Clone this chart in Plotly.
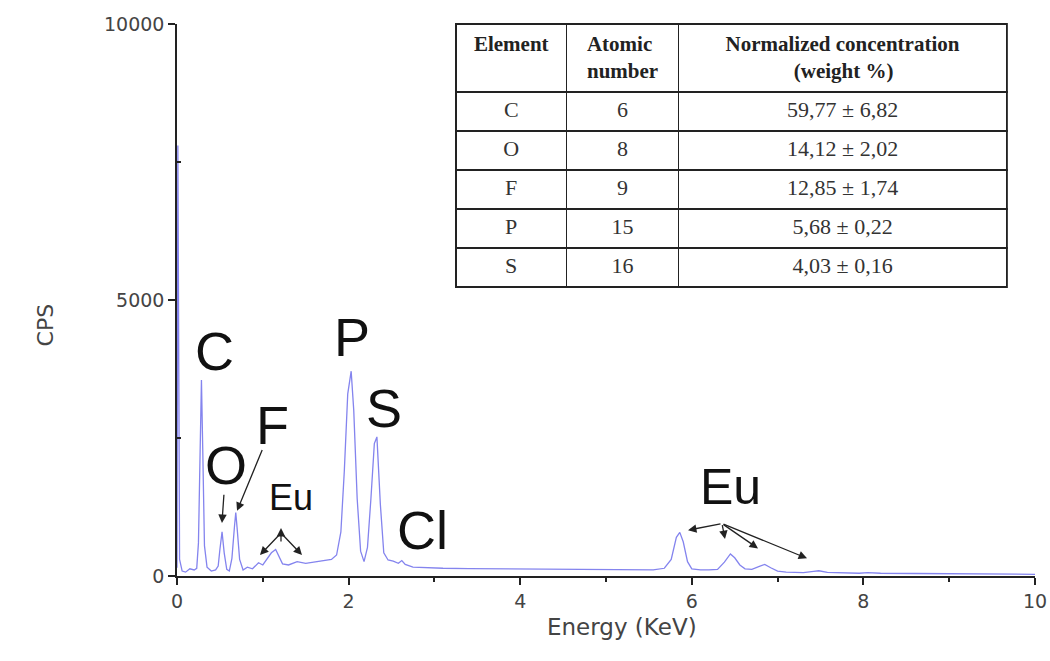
import plotly.graph_objects as go

# EDS spectrum read-out (energy in keV, counts per second)
energy_kev = [0.00, 0.01, 0.03, 0.06, 0.10, 0.15, 0.20, 0.23, 0.25, 0.27, 0.285, 0.30,
              0.32, 0.35, 0.40, 0.45, 0.48, 0.50, 0.525, 0.55, 0.58, 0.61, 0.64, 0.67,
              0.685, 0.70, 0.73, 0.77, 0.82, 0.88, 0.95, 1.00, 1.05, 1.10, 1.15, 1.19,
              1.23, 1.30, 1.40, 1.50, 1.60, 1.70, 1.80, 1.86, 1.91, 1.95, 1.99, 2.03,
              2.06, 2.10, 2.14, 2.18, 2.22, 2.26, 2.30, 2.33, 2.37, 2.41, 2.46, 2.52,
              2.58, 2.62, 2.66, 2.75, 2.90, 3.10, 3.40, 3.80, 4.20, 4.60, 5.00, 5.30,
              5.55, 5.68, 5.76, 5.82, 5.86, 5.90, 5.95, 6.00, 6.10, 6.20, 6.30, 6.38,
              6.45, 6.50, 6.56, 6.62, 6.70, 6.78, 6.85, 6.92, 7.00, 7.10, 7.30, 7.42,
              7.48, 7.58, 7.75, 7.95, 8.05, 8.20, 8.60, 9.00, 9.50, 10.00]
cps = [150, 7800, 300, 90, 70, 130, 110, 140, 600, 2400, 3550, 2300,
       550, 160, 90, 110, 180, 480, 800, 420, 120, 90, 320, 900,
       1150, 880, 300, 110, 160, 130, 240, 200, 300, 420, 480, 360,
       220, 200, 260, 230, 250, 270, 300, 380, 800, 1900, 3300, 3710,
       3000, 1400, 450, 260, 520, 1400, 2400, 2520, 1300, 420, 290, 270,
       230, 280, 210, 160, 150, 140, 135, 130, 125, 120, 115, 110,
       110, 140, 300, 700, 790, 620, 260, 130, 110, 110, 120, 250,
       400, 330, 200, 130, 120, 170, 210, 150, 90, 70, 60, 85,
       95, 65, 55, 50, 60, 50, 45, 40, 35, 30]

# Composition table
elements = ["C", "O", "F", "P", "S"]
atomic_numbers = ["6", "8", "9", "15", "16"]
concentrations = ["59,77 \u00b1 6,82", "14,12 \u00b1 2,02", "12,85 \u00b1 1,74",
                  "5,68 \u00b1 0,22", "4,03 \u00b1 0,16"]
table_header = ["<b>Element</b>", "<b>Atomic<br>number</b>",
                "<b>Normalized concentration<br>" + "\u00a0" * 13 + "(weight %)</b>"]

# Peak labels
peak_labels = ["C", "O", "F", "Eu", "P", "S", "Cl", "Eu"]
peak_label_x = [0.44, 0.57, 1.11, 1.33, 2.04, 2.41, 2.86, 6.45]
peak_label_y = [4080, 2010, 2740, 1420, 4330, 3040, 830, 1620]
peak_label_size = [54, 54, 54, 36, 54, 54, 54, 50]

SPEC_COLOR = "rgb(132,132,238)"
AXIS_COLOR = "#222222"
SANS = "Liberation Sans, Arial, sans-serif"
WIDE = "DejaVu Sans, Verdana, sans-serif"
SERIF = "Liberation Serif, Times New Roman, serif"

fig = go.Figure()

fig.add_trace(go.Scatter(
    x=energy_kev, y=cps, mode="lines",
    line=dict(color=SPEC_COLOR, width=1.3),
    showlegend=False, hoverinfo="skip",
))

fig.add_trace(go.Table(
    domain=dict(x=[0.325, 0.968], y=[0.515, 1.0]),
    columnwidth=[111, 112, 329],
    header=dict(values=table_header, align="center", height=68,
                fill_color="white",
                line=dict(color=AXIS_COLOR, width=1.5),
                font=dict(family=SERIF, size=21, color="#222222")),
    cells=dict(values=[elements, atomic_numbers, concentrations],
               align="center", height=39, fill_color="white",
               line=dict(color=AXIS_COLOR, width=1.5),
               font=dict(family=SERIF, size=22, color="#333333")),
))

annotations = []
for txt, x, y, s in zip(peak_labels, peak_label_x, peak_label_y, peak_label_size):
    annotations.append(dict(x=x, y=y, xref="x", yref="y", text=txt, showarrow=False,
                            font=dict(family=SANS, size=s, color="#111111")))

# Pointer arrows: (tail x, tail y, head x, head y) in data units
pointers = [
    (0.548, 1500, 0.524, 960),
    (1.00, 2310, 0.70, 1180),
    (1.212, 780, 0.967, 380),
    (1.212, 780, 1.457, 380),
    (1.212, 600, 1.212, 870),
    (6.352, 950, 5.956, 830),
    (6.352, 950, 6.387, 670),
    (6.352, 950, 6.772, 500),
    (6.352, 950, 7.343, 320),
]
for tx, ty, hx, hy in pointers:
    annotations.append(dict(x=hx, y=hy, ax=tx, ay=ty, xref="x", yref="y",
                            axref="x", ayref="y", text="", showarrow=True,
                            arrowhead=2, arrowsize=1.3, arrowwidth=1.3,
                            arrowcolor="#222222"))

annotations.append(dict(x=-0.170, y=0.455, xref="paper", yref="paper", text="CPS",
                        textangle=-90, showarrow=False,
                        font=dict(family=WIDE, size=22, color="#444444")))
annotations.append(dict(x=0.519, y=-0.12, xref="paper", yref="paper",
                        text="Energy (KeV)", showarrow=False,
                        font=dict(family=WIDE, size=23, color="#444444")))

fig.update_layout(
    width=1050, height=661,
    margin=dict(l=177, r=15, t=24, b=85),
    paper_bgcolor="white", plot_bgcolor="white",
    annotations=annotations,
    xaxis=dict(range=[0, 10], tickvals=[0, 2, 4, 6, 8, 10], automargin=False,
               showline=True, linecolor=AXIS_COLOR, linewidth=1.5,
               ticks="outside", ticklen=7, tickwidth=1.5, tickcolor=AXIS_COLOR,
               minor=dict(tickvals=[1, 3, 5, 7, 9], ticks="outside", ticklen=4,
                          tickwidth=1.5, tickcolor=AXIS_COLOR),
               showgrid=False, zeroline=False,
               tickfont=dict(family=WIDE, size=19, color="#444444")),
    yaxis=dict(range=[0, 10000], tickvals=[0, 5000, 10000], automargin=False,
               ticktext=["0", "5000", "10000"],
               showline=True, linecolor=AXIS_COLOR, linewidth=1.5,
               ticks="outside", ticklen=7, tickwidth=1.5, tickcolor=AXIS_COLOR,
               minor=dict(tickvals=[2500, 7500], ticks="inside", ticklen=4,
                          tickwidth=1.5, tickcolor=AXIS_COLOR),
               showgrid=False, zeroline=False,
               tickfont=dict(family=WIDE, size=19, color="#444444")),
)

fig.write_html("out.html")
